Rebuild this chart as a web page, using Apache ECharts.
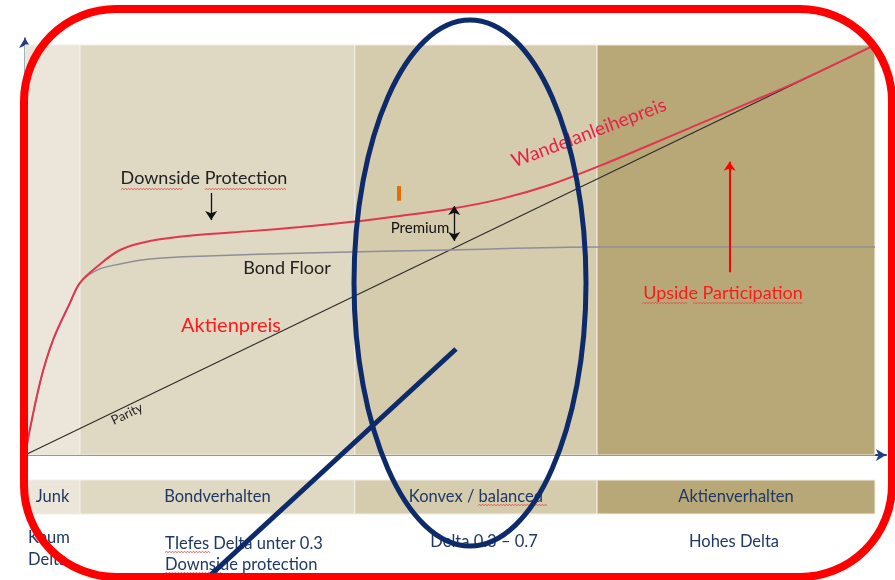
<!DOCTYPE html>
<html><head><meta charset="utf-8">
<script src="https://cdn.jsdelivr.net/npm/echarts@6/dist/echarts.min.js"></script>
<style>html,body{margin:0;padding:0;background:#fff}#c{width:895px;height:580px}</style>
</head><body><div id="c"></div>
<script>
// ---- data ----
const bandNames = ['Junk', 'Bondverhalten', 'Konvex / balanced', 'Aktienverhalten'];
const bandEdges = [0, 6.47, 38.8, 67.3, 100];
const bandDeltas = ['Kaum\nDelta', 'TIefes Delta unter 0.3\nDownside protection', 'Delta 0.3 – 0.7', 'Hohes Delta'];
const wandelanleihepreis = [[0,0],[1.76,17.6],[3.29,28.0],[5.29,37.1],[6.47,42.0],[8.47,45.9],[11.18,50.0],[14.7,52.2],[20.6,53.7],[26.5,54.6],[32.4,55.6],[38.2,56.8],[44.1,58.3],[50,60.0],[55.9,62.4],[61.8,65.9],[67.6,70.5],[73.5,75.6],[79.4,80.8],[85.3,86.0],[91.2,91.3],[100,100]];
const bondFloor = [[0,0],[1.76,17.6],[3.29,28.0],[5.29,37.1],[6.47,42.0],[8.47,45.1],[11.18,46.6],[14.7,47.8],[20.6,48.5],[34.3,49.3],[50,50.0],[67.6,50.7],[100,50.7]];
const parity = [[0,0],[100,100]];
const downsideArrow = [[21.9,63.9],[21.9,57.3]];
const premiumArrow = [[50.5,60.7],[50.5,52.2]];
const upsideArrow = [[82.9,44.6],[82.9,71.5]];
const orangeMark = [[44.0,65.6],[44.0,62.0]];

// ---- styles ----
const bandColors = ['#ECE6DA', '#DFD8C2', '#D5CBAD', '#B8A878'];
const FONT = 'Lato, "Open Sans", sans-serif';
const NAVY = '#0D2A6B';

const chart = echarts.init(document.getElementById('c'));

const bgAreas = bandNames.map((n, i) => [
  { coord: [bandEdges[i], 0], itemStyle: { color: bandColors[i], borderColor: '#F3EFE6', borderWidth: 1 } },
  { coord: [bandEdges[i + 1], 100] }
]);
const bottomAreas = bandNames.map((n, i) => [
  { name: n, coord: [bandEdges[i], 0], itemStyle: { color: bandColors[i], borderColor: '#F3EFE6', borderWidth: 1 } },
  { coord: [bandEdges[i + 1], 1] }
]);

function seg(p, color, width, symbols) {
  return [{ coord: p[0], lineStyle: { color, width, type: 'solid' }, symbol: symbols[0] }, { coord: p[1], symbol: symbols[1] }];
}
// spell-check squiggle decoration
function squiggle(x1, x2, y) {
  const pts = [];
  let k = 0;
  for (let x = x1; x <= x2; x += 1.5, k++) pts.push([x, y + (k % 2 ? -0.9 : 0.9)]);
  return { type: 'polyline', shape: { points: pts }, style: { stroke: '#E0504A', lineWidth: 0.8, fill: 'none' }, z: 11 };
}
function txt(x, y, text, size, color, extra) {
  return Object.assign({ type: 'text', x, y, z: 10,
    style: Object.assign({ text, font: size + 'px ' + FONT, fill: color, align: 'center', verticalAlign: 'middle' }, (extra || {})) });
}

const option = {
  animation: false,
  backgroundColor: '#fff',
  grid: [
    { left: 25, right: 9, top: 38, bottom: 125 },
    { left: 25, right: 20, top: 480, height: 34 }
  ],
  xAxis: [
    { type: 'value', gridIndex: 0, min: 0, max: 101.3, splitLine: { show: false }, axisTick: { show: false }, axisLabel: { show: false },
      axisLine: { show: true, onZero: false, symbol: ['none', 'arrow'], symbolSize: [9, 10], lineStyle: { color: '#1F3F7F', width: 2 } } },
    { type: 'value', gridIndex: 1, min: 0, max: 100, show: false }
  ],
  yAxis: [
    { type: 'value', gridIndex: 0, min: 0, max: 101.7, splitLine: { show: false }, axisTick: { show: false }, axisLabel: { show: false },
      axisLine: { show: true, onZero: false, symbol: ['none', 'arrow'], symbolSize: [9, 10], lineStyle: { color: '#1F3F7F', width: 1.5 } } },
    { type: 'value', gridIndex: 1, min: 0, max: 1, show: false }
  ],
  series: [
    { type: 'line', xAxisIndex: 0, yAxisIndex: 0, data: parity, showSymbol: false, silent: true,
      lineStyle: { color: '#2A2A2A', width: 1.1 }, z: 3,
      markArea: { silent: true, data: bgAreas, z: 1 } },
    { type: 'line', xAxisIndex: 0, yAxisIndex: 0, data: bondFloor, smooth: 0.35, showSymbol: false,
      lineStyle: { color: '#8E8E98', width: 1.5 }, z: 3 },
    { type: 'line', xAxisIndex: 0, yAxisIndex: 0, data: wandelanleihepreis, smooth: 0.35, showSymbol: false,
      lineStyle: { color: '#E2354F', width: 2 }, z: 4,
      markLine: { silent: true, animation: false, label: { show: false }, symbolSize: 9,
        data: [
          seg(downsideArrow, '#111', 1.3, ['none', 'arrow']),
          seg(premiumArrow, '#111', 1.3, ['arrow', 'arrow']),
          seg(upsideArrow, '#FF0000', 2, ['none', 'arrow']),
          seg(orangeMark, '#E46C0A', 4, ['none', 'none'])
        ] } },
    { type: 'line', xAxisIndex: 1, yAxisIndex: 1, data: [[0, 0]], showSymbol: false, lineStyle: { opacity: 0 },
      markArea: { silent: true, data: bottomAreas,
        label: { show: true, position: 'inside', color: '#1F3864', fontSize: 16.5, fontFamily: FONT } } }
  ],
  graphic: [
    txt(204, 178, 'Downside Protection', 18, '#222'),
    squiggle(121, 183, 189), squiggle(205, 287, 189),
    txt(420, 228, 'Premium', 15, '#111'),
    txt(287, 268, 'Bond Floor', 18, '#222'),
    txt(231, 326, 'Aktienpreis', 20, '#FF1A1A'),
    Object.assign(txt(589, 133, 'Wandelanleihepreis', 19, '#E8204A'), { rotation: 0.36 }),
    txt(723, 293, 'Upside Participation', 18, '#FF1A1A'),
    squiggle(642, 687, 303), squiggle(693, 803, 303),
    Object.assign(txt(127, 414, 'Parity', 13, '#222'), { rotation: 0.45 }),
    txt(28, 549, bandDeltas[0], 16.5, '#1F3864', { align: 'left', lineHeight: 22 }),
    txt(165, 554, bandDeltas[1], 16.5, '#1F3864', { align: 'left', lineHeight: 21 }),
    squiggle(165, 211, 552), squiggle(165, 223, 573),
    txt(484, 542, bandDeltas[2], 16.5, '#1F3864'),
    txt(734, 542, bandDeltas[3], 16.5, '#1F3864'),
    squiggle(478, 548, 505),
    { type: 'ellipse', shape: { cx: 470, cy: 283, rx: 116, ry: 263 },
      style: { fill: 'none', stroke: NAVY, lineWidth: 5 }, z: 20 },
    { type: 'line', shape: { x1: 456, y1: 349, x2: 203, y2: 582 }, style: { stroke: NAVY, lineWidth: 5 }, z: 20 },
    { type: 'rect', shape: { x: 24, y: 9, width: 868, height: 568, r: 92 }, style: { fill: 'none', stroke: '#FF0000', lineWidth: 8 }, z: 30 }
  ]
};
chart.setOption(option);
</script>
</body></html>
